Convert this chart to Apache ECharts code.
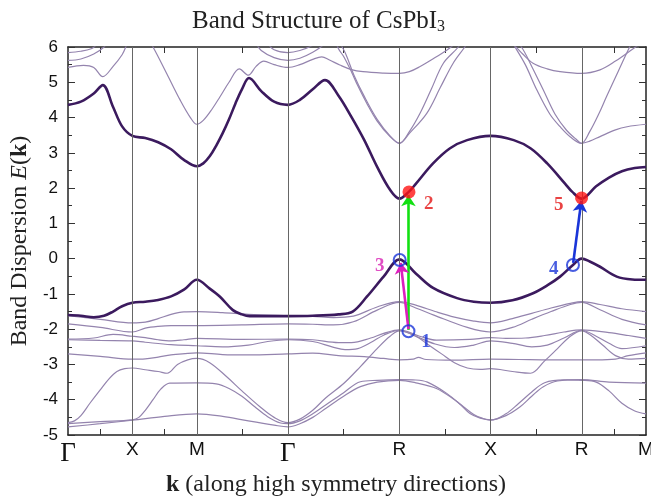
<!DOCTYPE html>
<html>
<head>
<meta charset="utf-8">
<title>Band Structure of CsPbI3</title>
<script src="https://cdn.jsdelivr.net/npm/echarts@6/dist/echarts.min.js"></script>
<style>
  html, body { margin: 0; padding: 0; background: #fff; }
  #chart { width: 651px; height: 498px; }
</style>
</head>
<body>
<div id="chart"></div>
<script>
// k-path: cumulative distance of the high symmetry points
const kPoints = [0, 0.5, 1.0, 1.707, 2.573, 3.28, 3.987, 4.487];
const kLabels = ['Γ', 'X', 'M', 'Γ', 'R', 'X', 'R', 'M'];

// lowest conduction band (thick)
const cb1 = [[0,4.36],[0.1,4.45],[0.2,4.68],[0.27,4.92],[0.35,4.3],[0.42,3.75],[0.5,3.48],
  [0.6,3.42],[0.7,3.3],[0.8,3.1],[0.9,2.8],[1.0,2.62],
  [1.05,2.7],[1.1,2.9],[1.15,3.2],[1.2,3.55],[1.25,3.95],[1.3,4.4],[1.35,4.8],[1.405,5.12],[1.5,4.75],[1.6,4.45],[1.707,4.36],
  [1.8,4.5],[1.9,4.8],[1.995,5.06],[2.1,4.62],[2.2,4.02],[2.3,3.36],[2.4,2.6],[2.5,1.95],[2.573,1.7],
  [2.647,1.9],[2.7,2.12],[2.834,2.7],[2.966,3.13],[3.098,3.36],[3.28,3.48],
  [3.46,3.36],[3.59,3.13],[3.72,2.7],[3.86,2.12],[3.913,1.9],[3.987,1.7],
  [4.1,2.05],[4.2,2.3],[4.3,2.48],[4.4,2.57],[4.487,2.6]];

// highest valence band (thick)
const vb1 = [[0,-1.6],[0.1,-1.62],[0.2,-1.66],[0.28,-1.62],[0.35,-1.5],[0.42,-1.35],[0.5,-1.25],
  [0.6,-1.22],[0.7,-1.17],[0.8,-1.07],[0.9,-0.88],[1.0,-0.6],
  [1.1,-0.85],[1.18,-1.08],[1.28,-1.46],[1.35,-1.58],[1.41,-1.63],[1.55,-1.63],[1.707,-1.63],
  [1.9,-1.62],[2.1,-1.58],[2.21,-1.5],[2.32,-1.08],[2.45,-0.51],[2.573,-0.02],
  [2.7,-0.42],[2.834,-0.83],[3.02,-1.12],[3.15,-1.22],[3.28,-1.25],
  [3.45,-1.18],[3.61,-0.98],[3.72,-0.76],[3.82,-0.51],[3.92,-0.18],[3.987,0],
  [4.05,-0.08],[4.13,-0.23],[4.26,-0.51],[4.38,-0.59],[4.487,-0.6]];

// lower valence bands (thin)
const v2 = [[0,-1.62],[0.25,-1.72],[0.5,-1.82],[0.6,-1.8],[0.7,-1.7],[0.8,-1.58],[0.9,-1.51],[1.0,-1.5],
  [1.2,-1.53],[1.4,-1.58],[1.707,-1.62],[1.9,-1.64],[2.06,-1.67],[2.215,-1.63],[2.4,-1.37],[2.573,-1.22],
  [2.7,-1.32],[2.85,-1.5],[3.0,-1.66],[3.15,-1.77],[3.28,-1.82],
  [3.45,-1.7],[3.6,-1.55],[3.75,-1.4],[3.9,-1.27],[3.987,-1.22],[4.13,-1.3],[4.3,-1.42],[4.487,-1.5]];
const v3 = [[0,-1.85],[0.25,-1.95],[0.5,-2.08],[0.6,-1.97],[0.7,-1.92],[0.8,-1.9],[1.0,-1.9],
  [1.35,-1.88],[1.707,-1.85],[1.9,-1.86],[2.06,-1.88],[2.215,-1.79],[2.4,-1.46],[2.573,-1.24],
  [2.7,-1.4],[2.84,-1.6],[3.1,-1.95],[3.28,-2.08],
  [3.45,-1.95],[3.6,-1.72],[3.75,-1.5],[3.9,-1.3],[3.987,-1.24],[4.13,-1.45],[4.3,-1.72],[4.487,-1.88]];
const v4 = [[0,-2.28],[0.2,-2.25],[0.35,-2.15],[0.5,-2.2],[0.6,-2.24],[0.7,-2.3],[0.8,-2.33],[0.9,-2.3],[1.0,-2.26],
  [1.35,-2.29],[1.707,-2.28],[1.9,-2.3],[2.1,-2.38],[2.2,-2.38],[2.35,-2.25],[2.45,-2.12],[2.573,-2.02],
  [2.73,-2.2],[2.86,-2.31],[3.12,-2.29],[3.28,-2.24],
  [3.4,-2.26],[3.55,-2.25],[3.7,-2.18],[3.85,-2.08],[3.987,-2.02],[4.2,-2.1],[4.35,-2.18],[4.487,-2.26]];
const v5 = [[0,-2.3],[0.25,-2.32],[0.5,-2.33],[0.6,-2.37],[0.8,-2.44],[1.0,-2.47],
  [1.2,-2.5],[1.4,-2.45],[1.55,-2.35],[1.707,-2.3],[1.9,-2.35],[2.05,-2.5],[2.15,-2.58],[2.25,-2.55],[2.35,-2.38],[2.45,-2.17],[2.573,-2.03],
  [2.7,-2.2],[2.85,-2.42],[3.0,-2.52],[3.15,-2.45],[3.28,-2.33],
  [3.45,-2.4],[3.6,-2.5],[3.72,-2.45],[3.85,-2.25],[3.987,-2.03],[4.1,-2.2],[4.2,-2.4],[4.3,-2.55],[4.487,-2.47]];
const v6 = [[0,-2.7],[0.25,-2.77],[0.5,-2.85],[0.6,-2.84],[0.7,-2.79],[0.8,-2.73],[1.0,-2.67],
  [1.2,-2.72],[1.4,-2.73],[1.707,-2.7],[1.9,-2.68],[2.1,-2.75],[2.3,-2.78],[2.45,-2.83],[2.573,-2.87],
  [2.68,-2.85],[2.72,-2.8],[2.78,-2.86],[3.0,-2.88],[3.28,-2.85],
  [3.5,-2.86],[3.75,-2.87],[3.987,-2.87],[4.1,-2.87],[4.25,-2.85],[4.35,-2.75],[4.487,-2.67]];
const v7 = [[0,-4.65],[0.05,-4.6],[0.1,-4.45],[0.17,-4.1],[0.25,-3.72],[0.32,-3.4],[0.38,-3.2],[0.44,-3.12],[0.5,-3.1],
  [0.6,-3.15],[0.7,-3.2],[0.77,-3.25],[0.85,-3.0],[0.93,-2.87],[1.0,-2.83],
  [1.1,-2.95],[1.232,-3.35],[1.35,-3.75],[1.49,-4.2],[1.6,-4.5],[1.707,-4.65],
  [1.8,-4.55],[1.9,-4.3],[2.0,-3.95],[2.14,-3.54],[2.27,-3.06],[2.4,-2.55],[2.5,-2.2],[2.573,-2.05],
  [2.7,-2.2],[2.8,-2.45],[2.9,-2.7],[3.0,-2.95],[3.1,-3.1],[3.2,-3.14],[3.28,-3.12],
  [3.45,-3.2],[3.59,-3.25],[3.7,-2.9],[3.8,-2.55],[3.9,-2.2],[3.987,-2.05],
  [4.05,-2.15],[4.15,-2.45],[4.25,-2.75],[4.35,-2.85],[4.487,-2.83]];
const v8 = [[0,-4.68],[0.25,-4.62],[0.5,-4.57],[0.55,-4.5],[0.6,-4.3],[0.66,-4.0],[0.72,-3.7],[0.79,-3.53],[1.0,-3.52],
  [1.15,-3.55],[1.25,-3.68],[1.35,-3.9],[1.45,-4.2],[1.55,-4.48],[1.65,-4.66],[1.707,-4.68],
  [1.8,-4.6],[1.9,-4.4],[2.0,-4.15],[2.14,-3.8],[2.27,-3.49],[2.4,-3.45],[2.573,-3.43],
  [2.7,-3.44],[2.79,-3.5],[2.94,-3.82],[3.05,-4.15],[3.12,-4.39],[3.2,-4.52],[3.28,-4.57],
  [3.4,-4.45],[3.51,-4.2],[3.6,-3.9],[3.69,-3.63],[3.8,-3.47],[3.987,-3.43],[4.2,-3.5],[4.487,-3.53]];
const v9 = [[0,-4.77],[0.25,-4.68],[0.5,-4.58],[0.75,-4.47],[1.0,-4.4],
  [1.2,-4.47],[1.4,-4.6],[1.6,-4.72],[1.707,-4.77],
  [1.8,-4.68],[1.9,-4.5],[2.0,-4.25],[2.14,-3.9],[2.27,-3.63],[2.4,-3.5],[2.573,-3.45],
  [2.7,-3.52],[2.86,-3.68],[3.0,-4.0],[3.07,-4.2],[3.15,-4.42],[3.22,-4.53],[3.28,-4.58],
  [3.4,-4.4],[3.5,-4.1],[3.6,-3.78],[3.7,-3.52],[3.85,-3.44],[3.987,-3.45],
  [4.1,-3.5],[4.2,-3.75],[4.3,-4.1],[4.4,-4.32],[4.487,-4.4]];

// higher conduction bands (thin), parts above 6 eV are clipped
const c2 = [[0,5.42],[0.12,5.48],[0.2,5.42],[0.27,5.16],[0.35,5.45],[0.42,5.78],[0.5,6.3],
  [0.6,6.35],[0.66,6.0],[0.766,5.25],[0.87,4.5],[0.95,4.0],[1.0,3.81],
  [1.05,3.92],[1.12,4.25],[1.18,4.59],[1.25,5.0],[1.33,5.38],[1.4,5.2],[1.46,5.45],[1.52,5.6],[1.6,5.5],[1.707,5.42],
  [1.8,5.5],[1.9,5.65],[1.97,5.72],[2.03,5.63],[2.11,5.49],[2.2,5.36],[2.29,5.3],[2.45,5.26],[2.573,5.25],
  [2.65,5.3],[2.73,5.44],[2.85,5.7],[2.94,5.91],[3.05,6.2],[3.28,6.6],
  [3.45,6.1],[3.53,5.8],[3.61,5.54],[3.72,5.38],[3.82,5.3],[3.987,5.25],
  [4.13,5.35],[4.25,5.6],[4.39,5.96],[4.487,6.2]];
const c3 = [[2.05,6.4],[2.1,5.95],[2.14,5.73],[2.2,5.3],[2.25,4.9],[2.32,4.4],[2.4,3.9],[2.5,3.46],[2.573,3.27],
  [2.65,3.6],[2.733,4.12],[2.82,4.8],[2.914,5.54],[3.03,6.0],[3.1,6.4],
  [3.4,6.4],[3.47,6.0],[3.55,5.5],[3.64,4.78],[3.74,4.1],[3.82,3.74],[3.9,3.45],[3.987,3.27],
  [4.05,3.33],[4.13,3.46],[4.25,3.65],[4.34,3.74],[4.487,3.81]];
const c4 = [[2.08,6.3],[2.15,5.85],[2.22,5.2],[2.3,4.6],[2.4,3.95],[2.5,3.48],[2.573,3.27],
  [2.65,3.55],[2.785,4.12],[2.89,4.85],[2.99,5.54],[3.08,6.0],[3.15,6.4],
  [3.42,6.4],[3.52,6.0],[3.6,5.45],[3.69,4.78],[3.78,4.1],[3.87,3.64],[3.94,3.4],[3.987,3.27],
  [4.05,3.6],[4.12,4.1],[4.18,4.59],[4.27,5.3],[4.36,6.0],[4.42,6.4]];
const c5 = [[0,5.62],[0.1,5.66],[0.2,5.8],[0.28,6.0],[0.35,6.3],
  [1.4,6.3],[1.5,5.9],[1.6,5.7],[1.707,5.62],[1.8,5.68],[1.9,5.85],[1.98,6.05],[2.05,6.3]];
const c6 = [[0,5.84],[0.1,5.88],[0.18,5.95],[0.25,6.1],
  [1.5,6.2],[1.6,5.92],[1.707,5.84],[1.8,5.9],[1.9,6.05],[2.0,6.3]];

// transitions marked on the plot
const redDots = [[2.647,1.89],[3.987,1.72]];
const blueRings = [[2.643,-2.06],[2.575,-0.04],[3.92,-0.18]];
const greenArrow = [[2.643,-2.02],[2.643,1.8]];
const magentaArrow = [[2.643,-2.0],[2.583,-0.12]];
const blueArrow = [[3.922,-0.12],[3.985,1.64]];
const marks = [[2.78,-2.36,'1'],[2.8,1.55,'2'],[2.42,-0.22,'3'],[3.77,-0.3,'4'],[3.81,1.52,'5']];
const markColors = {'1':'#1a35d8','2':'#e31414','3':'#d81fb4','4':'#1a35d8','5':'#e31414'};

const midTicks = kPoints.slice(1).map((k, i) => (k + kPoints[i]) / 2);

function band(data, thick) {
  return {
    type: 'line', data: data, showSymbol: false, silent: true,
    smooth: 0.35,
    lineStyle: { color: thick ? '#3b1a5e' : '#9484ae', width: thick ? 2.6 : 1.2 },
    z: thick ? 4 : 3
  };
}

function arrow(pts, color) {
  return {
    type: 'line', data: [], silent: true,
    markLine: {
      silent: true, symbol: ['none', 'arrow'], symbolSize: 11,
      label: { show: false },
      lineStyle: { color: color, width: 2.6, type: 'solid' },
      data: [[{ coord: pts[0] }, { coord: pts[1] }]]
    },
    z: 6
  };
}

const chart = echarts.init(document.getElementById('chart'));

const option = {
  backgroundColor: '#fff',
  animation: false,
  title: {
    text: 'Band Structure of CsPbI{s|3}',
    left: 187, top: 3,
    textStyle: {
      fontFamily: 'Liberation Serif', fontSize: 25, fontWeight: 'normal', color: '#222',
      rich: { s: { fontFamily: 'Liberation Serif', fontSize: 16, color: '#222', padding: [11, 0, 0, 0] } }
    }
  },
  grid: { left: 68, right: 5, top: 47, bottom: 63, containLabel: false, outerBoundsMode: 'none' },
  xAxis: [{
    type: 'value', min: 0, max: kPoints[kPoints.length - 1],
    name: '{b|k} (along high symmetry directions)',
    nameLocation: 'middle', nameGap: 38,
    nameTextStyle: {
      fontFamily: 'Liberation Serif', fontSize: 24, color: '#222', padding: [0, 42, 0, 0],
      rich: { b: { fontFamily: 'Liberation Serif', fontSize: 24, fontWeight: 'bold', color: '#222' } }
    },
    axisLine: { onZero: false, lineStyle: { color: '#222', width: 1.5 } },
    axisTick: { customValues: midTicks, inside: true, length: 6, lineStyle: { color: '#333' } },
    axisLabel: {
      customValues: kPoints, margin: 5,
      fontFamily: 'Liberation Sans', fontSize: 19, color: '#111',
      formatter: function (v) {
        const i = kPoints.findIndex(k => Math.abs(k - v) < 1e-6);
        const s = kLabels[i];
        return s === 'Γ' ? '{g|Γ}' : s;
      },
      rich: { g: { fontFamily: 'Liberation Serif', fontSize: 27, color: '#111' } }
    },
    splitLine: { show: false }
  }, {
    type: 'value', position: 'top', min: 0, max: kPoints[kPoints.length - 1],
    axisLine: { onZero: false, lineStyle: { color: '#222', width: 1.5 } },
    axisTick: { customValues: midTicks, inside: true, length: 6, lineStyle: { color: '#333' } },
    axisLabel: { show: false },
    splitLine: { show: false }
  }],
  yAxis: [{
    type: 'value', min: -5, max: 6, interval: 1,
    name: 'Band Dispersion {i|E}({b|k})',
    nameLocation: 'middle', nameGap: 33, nameRotate: 90,
    nameTextStyle: {
      fontFamily: 'Liberation Serif', fontSize: 24, color: '#222',
      rich: {
        i: { fontFamily: 'Liberation Serif', fontSize: 24, fontStyle: 'italic', color: '#222' },
        b: { fontFamily: 'Liberation Serif', fontSize: 24, fontWeight: 'bold', color: '#222' }
      }
    },
    axisLine: { show: true, onZero: false, lineStyle: { color: '#222', width: 1.5 } },
    axisTick: { inside: true, length: 7, lineStyle: { color: '#333' } },
    minorTick: { show: true, splitNumber: 2, length: 4, lineStyle: { color: '#333' } },
    axisLabel: { fontFamily: 'Liberation Sans', fontSize: 17, color: '#111', margin: 10 },
    splitLine: { show: false }
  }, {
    type: 'value', position: 'right', min: -5, max: 6, interval: 1,
    axisLine: { show: true, onZero: false, lineStyle: { color: '#222', width: 1.5 } },
    axisTick: { inside: true, length: 7, lineStyle: { color: '#333' } },
    minorTick: { show: true, splitNumber: 2, length: 4, lineStyle: { color: '#333' } },
    axisLabel: { show: false },
    splitLine: { show: false }
  }],
  series: [
    {
      // vertical lines at the high symmetry points
      type: 'line', data: [], silent: true, z: 1,
      markLine: {
        silent: true, symbol: 'none', label: { show: false },
        lineStyle: { color: '#666', width: 1, type: 'solid' },
        data: kPoints.slice(1, -1).map(k => ({ xAxis: k }))
      }
    },
    band(c2), band(c3), band(c4), band(c5), band(c6),
    band(v2), band(v3), band(v4), band(v5), band(v6), band(v7), band(v8), band(v9),
    band(cb1, true), band(vb1, true),
    arrow(greenArrow, '#12e012'),
    arrow(magentaArrow, '#dc1fbe'),
    arrow(blueArrow, '#1a35d8'),
    {
      type: 'scatter', data: redDots, symbolSize: 13, silent: true, z: 7,
      itemStyle: { color: '#ff1414' }
    },
    {
      type: 'scatter', data: blueRings, symbolSize: 12, silent: true, z: 7,
      itemStyle: { color: 'rgba(255,255,255,0)', borderColor: '#1a35d8', borderWidth: 2 }
    },
    {
      type: 'scatter', silent: true, z: 8, symbolSize: 0,
      data: marks.map(m => ({ value: [m[0], m[1]], name: m[2], label: { color: markColors[m[2]] } })),
      label: {
        show: true, position: 'inside',
        fontFamily: 'Liberation Serif', fontSize: 19, fontWeight: 'bold',
        formatter: p => p.name
      }
    }
  ]
};

chart.setOption(option);
</script>
</body>
</html>
